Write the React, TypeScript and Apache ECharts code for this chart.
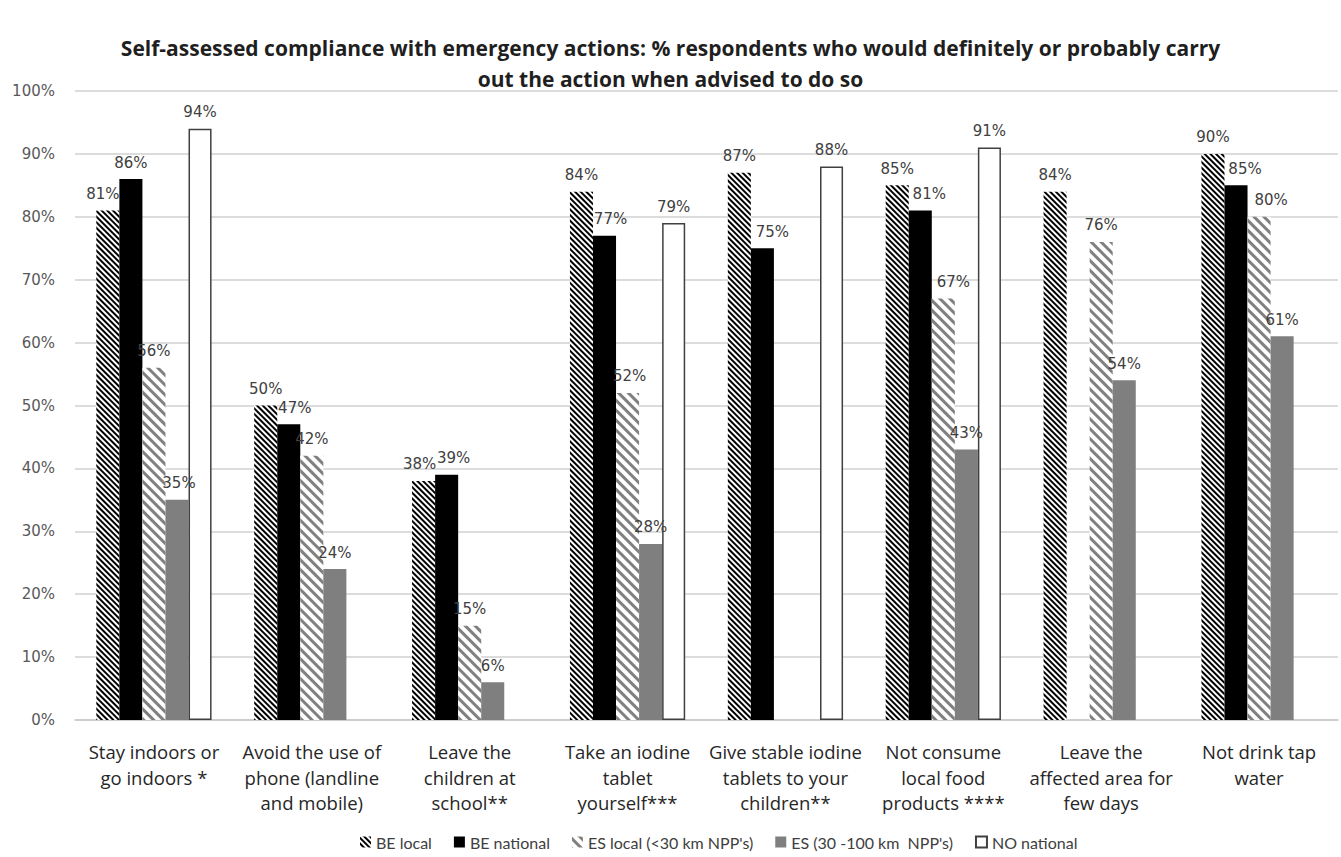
import React, { useEffect, useRef } from "react";
import * as echarts from "echarts";

const titleLines = [
  "Self-assessed compliance with emergency actions: % respondents who would definitely or probably carry",
  "out the action when advised to do so",
];

const categories = [
  "Stay indoors or\ngo indoors *",
  "Avoid the use of\nphone (landline\nand mobile)",
  "Leave the\nchildren at\nschool**",
  "Take an iodine\ntablet\nyourself***",
  "Give stable iodine\ntablets to your\nchildren**",
  "Not consume\nlocal food\nproducts ****",
  "Leave the\naffected area for\nfew days",
  "Not drink tap\nwater",
];

const seriesNames = [
  "BE local",
  "BE national",
  "ES local (<30 km NPP's)",
  "ES (30 -100 km  NPP's)",
  "NO national",
];

const beLocal = [81, 50, 38, 84, 87, 85, 84, 90];
const beNational = [86, 47, 39, 77, 75, 81, null, 85];
const esLocal = [56, 42, 15, 52, null, 67, 76, 80];
const esFar = [35, 24, 6, 28, null, 43, 54, 61];
const noNational = [94, null, null, 79, 88, 91, null, null];

// horizontal nudges (px) for crowded value labels: [series, category, dx]
const labelNudges: [number, number, number][] = [
  [0, 0, -5],
  [0, 2, -4],
  [1, 1, 6],
  [1, 2, 7],
  [1, 3, 6],
  [1, 4, 10],
  [1, 5, 9],
  [1, 7, 9],
  [2, 3, 2],
  [2, 5, 10],
  [2, 7, 12],
  [3, 0, 2],
];

const LATIN = "Lato, 'Noto Sans', sans-serif";
const WIDE = "'Open Sans', 'Noto Sans', sans-serif";
const NUM = "'DejaVu Sans', Verdana, sans-serif";

export default function App() {
  const ref = useRef<HTMLDivElement>(null);

  useEffect(() => {
    document.body.style.margin = "0";
    if (!ref.current) return;
    const chart = echarts.init(ref.current, null, { renderer: "svg" });

    const label = {
      show: true,
      position: "top" as const,
      distance: 9,
      fontFamily: NUM,
      fontSize: 15,
      color: "#404040",
      formatter: (p: any) => `${p.value}%`,
    };

    const withNudges = (si: number, data: (number | null)[]) =>
      data.map((v, ci) => {
        const n = labelNudges.find((e) => e[0] === si && e[1] === ci);
        if (v === null || !n) return v;
        return { value: v, label: { offset: [n[2], 0] } };
      });

    const bar = (si: number, data: (number | null)[], itemStyle: any) => ({
      name: seriesNames[si],
      type: "bar",
      data: withNudges(si, data),
      barGap: "0%",
      barCategoryGap: "27%",
      itemStyle,
      label,
    });

    chart.setOption({
      animation: false,
      backgroundColor: "#ffffff",
      title: {
        text: titleLines.join("\n"),
        left: "center",
        top: 27,
        textStyle: {
          fontFamily: WIDE,
          fontWeight: "bold",
          fontSize: 21,
          lineHeight: 31,
          color: "#1f1f1f",
        },
      },
      legend: {
        bottom: 2,
        left: 355,
        itemWidth: 11,
        itemHeight: 11,
        itemGap: 22,
        icon: "rect",
        textStyle: { fontFamily: LATIN, fontSize: 16, color: "#404040" },
        data: seriesNames,
      },
      grid: { left: 75, right: 3, top: 91, bottom: 137 },
      xAxis: {
        type: "category",
        data: categories,
        axisLine: { lineStyle: { color: "#c8c8c8", width: 1.5 } },
        axisTick: { show: false },
        axisLabel: {
          interval: 0,
          margin: 19,
          fontFamily: WIDE,
          fontSize: 18.5,
          lineHeight: 25.5,
          color: "#262626",
        },
      },
      yAxis: {
        type: "value",
        min: 0,
        max: 100,
        interval: 10,
        axisLine: { show: false },
        axisTick: { show: false },
        splitLine: { lineStyle: { color: "#d0d0d0", width: 1.5 } },
        axisLabel: {
          margin: 20,
          fontFamily: NUM,
          fontSize: 15,
          color: "#595959",
          formatter: "{value}%",
        },
      },
      series: [
        bar(0, beLocal, {
          color: "#ffffff",
          decal: {
            symbol: "rect",
            symbolSize: 1,
            color: "#000000",
            dashArrayX: [1, 0],
            dashArrayY: [2, 1.6],
            rotation: Math.PI / 4,
          },
        }),
        bar(1, beNational, { color: "#000000" }),
        bar(2, esLocal, {
          color: "#ffffff",
          decal: {
            symbol: "rect",
            symbolSize: 1,
            color: "#808080",
            dashArrayX: [1, 0],
            dashArrayY: [3, 4],
            rotation: Math.PI / 4,
          },
        }),
        bar(3, esFar, { color: "#7f7f7f" }),
        bar(4, noNational, {
          color: "#ffffff",
          borderColor: "#404040",
          borderWidth: 1.5,
        }),
      ],
    });

    return () => chart.dispose();
  }, []);

  return <div ref={ref} style={{ width: 1341, height: 857 }} />;
}
